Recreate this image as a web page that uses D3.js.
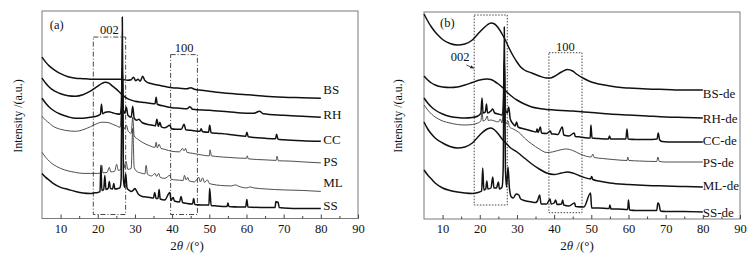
<!DOCTYPE html>
<html>
<head>
<meta charset="utf-8">
<script src="https://cdn.jsdelivr.net/npm/d3@7"></script>
<style>
  body { margin: 0; background: #fff; }
  svg { display: block; }
  svg text { font-family: "Liberation Serif", Tinos, "Times New Roman", Times, "DejaVu Serif", serif; }
</style>
</head>
<body>
<div id="chart"></div>
<script>
// ticks on the 2θ axis
const majorTicks = [10, 20, 30, 40, 50, 60, 70, 80, 90];
const minorTicks = [15, 25, 35, 45, 55, 65, 75, 85];

// ---- panel (a) : raw samples, [2θ, intensity (a.u.)]
const namesA = ["BS", "RH", "CC", "PS", "ML", "SS"];
const labelLevelA = [128.5, 103.5, 78.5, 56.5, 35.5, 12.5];

const bsA = [[5,161],[6,156],[7,152],[8,149],[9,146.5],[10,144.5],[12,141.5],[14,140],[16,139.5],[18,139],[20,139],[22,139],[24,139],[26,139],[27,138.5],[28,138],[29,138.5],[29.6,141],[30.2,137.5],[30.8,139],[31.4,137],[32.1,142],[32.6,138],[33.5,135.5],[35,134],[37,132.5],[40,130.5],[42,130],[44,129.5],[45,130.5],[46,129],[48,128],[50,127],[52,126],[55,125],[58,124],[60,123.5],[62,123],[65,122],[70,121],[75,120.5],[80,120]];
const rhA = [[5,140],[6,135],[7,131],[8,128],[9,126],[10,124.5],[12,122.5],[14,122],[16,123.5],[18,127],[20,132],[21,134.5],[22,136],[23,135],[24,132],[25,129],[26,125.5],[27,122],[28,119.5],[30,117],[32,116],[34,115],[35.4,114.5],[35.7,121],[36,114],[38,112],[40,110.5],[42,110],[44,109.5],[44.8,111.5],[45.5,109],[50,108],[55,106.5],[60,105],[62,105],[63.5,107],[64.5,104.5],[70,103],[75,102],[80,101]];
const ccA = [[5,120],[6,115],[7,111],[8,108],[10,104],[12,101.5],[14,100],[16,100],[18,101],[20,102.5],[20.7,104],[21,114],[21.3,104.5],[22,106],[23,106.5],[24,105.5],[25,104.5],[26,104],[26.3,110],[26.6,150],[26.9,108],[27.3,105],[27.7,111],[28.1,103],[29,101],[29.4,112],[29.8,100],[30.5,98],[31,99],[32,95.5],[34,93.5],[35.5,92.5],[35.9,99],[36.3,92],[36.7,96],[37.1,91.5],[38,90.5],[39.4,93],[39.8,89.5],[41,89],[42.5,89],[43.2,94],[43.7,88.5],[45,88],[47.5,87],[47.8,89.5],[48.2,86.5],[49.8,86],[50.1,93],[50.5,85.5],[52,85],[55,84],[57,83],[59.8,82],[60.1,86],[60.5,81.5],[65,80],[67.8,79.5],[68.1,84],[68.5,79],[70,78.5],[75,77.5],[80,77]];
const psA = [[5,102],[6,98],[7,95],[8,92],[10,89],[12,87.5],[14,87],[16,88.5],[18,91.5],[20,95],[21,96],[22,96],[23,95.5],[24,94],[25,92.5],[26,91],[26.6,120],[27,89],[27.7,93],[28.2,87],[29,85],[29.4,101],[29.8,82.5],[31,78.5],[32,76],[34,72.5],[35.4,71],[35.7,76],[36,70.5],[36.5,74],[37,70],[38,69],[40,67],[42,66.5],[42.8,70],[43.2,67.5],[43.6,70],[44,66],[45.5,65],[47,64],[50,62.5],[50.2,68.5],[50.6,62.5],[55,61],[60,60],[60.2,62.5],[60.5,59.5],[65,58.5],[68,58],[68.2,62],[68.6,57.5],[70,57.5],[75,56.5],[80,55.5]];
const mlA = [[5,66],[6,61],[7,57],[8,54],[10,50],[12,47.5],[14,46],[16,45],[18,45],[20,45],[20.8,45.5],[21.1,53],[21.4,45.5],[22.5,46],[23.1,51],[23.5,46.5],[24.5,47],[25.1,54],[25.5,48],[26.2,49],[26.6,150],[27,50],[27.6,57],[28.1,49],[29,50],[29.4,90],[29.8,51],[30.5,47],[31.5,45.5],[32.7,44.5],[33,53],[33.4,44],[34.5,42.5],[35.4,45],[35.8,42],[36.4,45],[36.8,41],[38,40],[39.4,43],[39.8,39],[41,38.5],[43,38],[43.3,43],[43.8,38.5],[44.2,41],[44.6,37.5],[46,36.5],[47.2,41],[47.6,36.5],[48.2,40.5],[48.7,36],[49.5,38.5],[50,35],[51,34],[53,33],[56,32.5],[57,33.5],[58,32],[60,30.5],[61,31.5],[62,30.5],[65,29.5],[70,28.5],[75,28],[80,27]];
const ssA = [[5,45],[6,41],[7,38],[8,35],[10,31],[12,29],[14,27],[16,25.5],[18,25],[19,25.5],[20,26],[20.6,27],[20.85,53],[21.1,28],[21.6,29],[21.9,43],[22.2,29],[22.8,30],[23.1,37],[23.4,30],[24,29.5],[24.3,35],[24.6,29.5],[25.5,30],[26,31],[26.3,40],[26.6,201],[26.9,40],[27.2,31],[27.5,45],[27.9,30],[28.5,28],[29,27],[29.5,28],[30,30],[30.5,27],[31,24],[32,22],[33,21.5],[34,21],[35,20.5],[35.3,26],[35.7,20],[36.2,20],[36.5,29],[36.8,19.5],[38,18.5],[39.4,26],[39.7,18],[40.3,21],[40.6,17.5],[42,16.5],[42.4,22],[42.8,16],[44,15],[45.5,14.5],[45.8,20],[46.1,14],[48,13.5],[49.9,13.5],[50.1,30],[50.5,13],[52,12.5],[54.8,12],[55,15.5],[55.3,12],[58,11.5],[59.8,11.5],[60.1,19],[60.4,11.5],[64,11],[67.7,11],[67.9,17],[68.2,16],[68.5,16.5],[68.8,11],[70,10.5],[75,10],[80,10]];

// boxes of panel (a): [2θ from, 2θ to, intensity from, intensity to]
const box002A = [18.8, 27.5, 4, 181];
const box100A = [39.6, 46.8, 4, 163.5];

// ---- panel (b) : demineralised samples
const namesB = ["BS-de", "RH-de", "CC-de", "PS-de", "ML-de", "SS-de"];
const labelLevelB = [125.7, 100.7, 79, 56.7, 34, 6.7];

const bsB = [[5,205],[6,198],[7,192],[8,187],[9,183],[10,179.5],[12,175.5],[14,174],[16,175],[18,179],[20,187],[22,194],[23,196],[24,195],[25,191],[26,185],[27,178],[28,170],[29,163],[30,157],[31,152],[32,149],[34,146],[36,143],[38,141],[39,141],[40,142.5],[42,147],[43.5,149.5],[45,148],[46,145],[48,140.5],[50,137],[52,135],[55,133],[58,131.5],[60,131],[65,130],[70,129.5],[75,129],[80,129]];
const rhB = [[5,143],[6,139],[7,136],[8,134],[10,132],[12,131.5],[14,132],[16,134],[18,136.5],[20,139],[22,140],[23,139.5],[24,137.5],[25,135],[26,132],[27,128],[28,124.5],[29,121.5],[30,119],[32,115],[34,112],[36,110.5],[38,109.5],[40,109],[42,108.5],[45,108],[48,107],[50,106.5],[55,105],[60,104],[65,103],[70,102],[75,101.5],[80,101]];
const ccB = [[5,121],[6,116],[7,112],[8,109],[10,105],[12,102.5],[14,101.5],[16,101],[18,101.5],[19.5,103],[20.3,106],[20.6,121],[20.9,106],[21.5,107],[21.8,115],[22.1,106],[23,108],[23.5,110],[24,106],[25,105],[26,104],[26.3,110],[26.6,160],[26.9,110],[27.4,106],[27.8,112],[28.2,100],[29,95],[29.5,93],[29.9,97],[30.3,92],[32,90],[34,88],[35.2,87],[35.4,90],[35.7,86.5],[36.3,92],[36.6,86],[38,85.5],[39,88],[39.3,85],[40,85],[41,84.5],[42.2,92],[42.6,84],[44,83],[45.4,86],[45.7,82.5],[47,82],[49.7,81],[49.9,94],[50.2,81],[52,80.5],[54.6,80],[54.9,83],[55.2,80],[57,80],[59.3,80],[59.6,90],[59.9,80],[62,79.5],[65,79.5],[67.7,80],[68,86],[68.4,79],[69,77.5],[72,77],[75,77],[80,77]];
const psB = [[5,114],[6,109],[7,105],[8,102],[10,98],[12,96],[14,94.5],[16,94],[18,94.5],[19.5,96],[20.3,98],[20.6,108],[20.9,98],[21.5,99],[22,103],[22.3,98.5],[23,99],[24,98],[25,97],[25.5,100],[26,96],[26.6,130],[27,95],[27.6,98],[28,92],[29,90],[30,88],[31,85],[32,81],[34,75],[36,70],[38,66.5],[39.5,67],[41,68.5],[43.3,70],[45,68.5],[47,65],[48,63.5],[50,62],[50.4,65],[50.8,61.5],[53,60.5],[55.8,59.5],[59.6,58.5],[59.8,62],[60.1,58.5],[63,58],[67.6,57.5],[67.9,62],[68.3,57.5],[70,57],[75,57],[80,57]];
const mlB = [[5,97],[6,90],[7,85],[8,81],[10,76],[12,72.5],[14,71],[16,72],[18,76],[20,84],[22,90],[23,91],[24,89],[25,85],[26,80],[27,76],[28,72],[30,67],[32,61],[34,55],[36,50],[38,46],[40,44.5],[42,46],[43.5,47],[45,46],[47,43],[49.8,40],[50.1,42.5],[50.4,39.5],[52,38],[55,36],[60,34.5],[65,33.5],[70,33],[75,32.5],[80,32]];
const ssB = [[5,49],[6,44],[7,40],[8,36],[10,31],[12,28.5],[14,27],[16,26],[18,25.5],[19.5,26.5],[20.5,28],[20.8,51],[21.1,29],[21.6,30],[21.9,38],[22.2,30],[23,31],[23.5,42],[23.8,31],[24.5,31],[25,37],[25.3,30],[26,32],[26.3,50],[26.6,192],[26.9,50],[27.2,32],[27.6,52],[28,30],[28.5,22],[29,21],[29.8,25],[30.5,24],[31,20],[32,18.5],[34,17],[35,16.5],[35.5,18],[36.1,24],[36.5,15],[38,15],[38.9,20],[39.2,15],[40,16],[40.4,19],[40.8,14.5],[42,15],[42.3,19],[42.6,14],[44,13],[45.5,16],[45.8,12.5],[48,12],[49.8,26],[50.1,11],[52,11],[54.8,10.5],[55,14],[55.3,10],[57,10],[59.8,9.5],[60,19],[60.3,9],[62,8.5],[64,8.5],[67.6,8.5],[67.9,16],[68.2,15],[68.6,8],[70,7.5],[75,7.5],[80,7]];

const box002B = [18.5, 27.4, 14, 204];
const box100B = [38.6, 47.5, 6.3, 166.3];
// "002" pointer in (b): [2θ, intensity] start and end
const arrow002B = [[16.4, 154], [18.4, 150.8]];

const width = 755, height = 258;
const serif = '"Liberation Serif", Tinos, "Times New Roman", Times, "DejaVu Serif", serif';

const svg = d3.select("#chart")
  .append("svg")
  .attr("width", width)
  .attr("height", height)
  .attr("font-family", serif);

svg.append("defs").append("marker")
  .attr("id", "head")
  .attr("viewBox", "0 0 10 10")
  .attr("refX", 9).attr("refY", 5)
  .attr("markerWidth", 5).attr("markerHeight", 5)
  .attr("orient", "auto")
  .append("path")
  .attr("d", "M0,1 L10,5 L0,9 Z")
  .attr("fill", "#222");

function drawPanel(p) {
  const xScale = d3.scaleLinear().domain([5, 90]).range([p.left, p.right]);
  const yScale = d3.scaleLinear().domain([0, 207]).range([p.bottom, p.top]);
  const g = svg.append("g");

  // frame
  g.append("rect")
    .attr("x", xScale(5)).attr("y", yScale(207))
    .attr("width", xScale(90) - xScale(5))
    .attr("height", yScale(0) - yScale(207))
    .attr("fill", "none")
    .attr("stroke", "#7a7a7a")
    .attr("stroke-width", 1);

  // dashed boxes around 002 and 100 bands
  p.boxes.forEach(b => {
    g.append("rect")
      .attr("x", xScale(b[0])).attr("y", yScale(b[3]))
      .attr("width", xScale(b[1]) - xScale(b[0]))
      .attr("height", yScale(b[2]) - yScale(b[3]))
      .attr("fill", "none")
      .attr("stroke", "#333")
      .attr("stroke-width", 0.9)
      .attr("stroke-dasharray", p.dash);
  });

  const line = d3.line()
    .x(d => xScale(d[0]))
    .y(d => yScale(d[1]))
    .curve(d3.curveMonotoneX);

  p.series.forEach((s, i) => {
    g.append("path")
      .datum(s)
      .attr("d", line)
      .attr("fill", "none")
      .attr("stroke", p.thin[i] ? "#3a3a3a" : "#111")
      .attr("stroke-width", p.thin[i] ? 0.9 : 1.5)
      .attr("stroke-linejoin", "round");

    g.append("text")
      .attr("x", xScale(80) + p.labelGap)
      .attr("y", yScale(p.levels[i]))
      .attr("dominant-baseline", "central")
      .attr("font-size", 13)
      .attr("fill", "#111")
      .text(p.names[i]);
  });

  // bottom axis, ticks pointing inward
  const axisG = g.append("g").attr("transform", `translate(0,${p.bottom})`);
  axisG.call(d3.axisBottom(xScale).tickValues(majorTicks)
    .tickSizeInner(-4).tickSizeOuter(0).tickPadding(5.5));
  axisG.append("g").call(d3.axisBottom(xScale).tickValues(minorTicks)
    .tickSizeInner(-2.5).tickSizeOuter(0).tickFormat(""));
  axisG.selectAll(".domain").remove();
  axisG.attr("font-family", serif);
  axisG.selectAll("g").attr("font-family", serif);
  axisG.selectAll("line").attr("stroke", "#444");
  axisG.selectAll("text")
    .attr("font-size", 12.5)
    .attr("font-family", serif)
    .attr("fill", "#111");

  // axis titles
  const xt = g.append("text")
    .attr("x", p.xTitleX).attr("y", 250)
    .attr("text-anchor", "middle")
    .attr("font-size", 13)
    .attr("fill", "#111");
  xt.append("tspan").text("2");
  xt.append("tspan").attr("font-style", "italic").text("θ");
  xt.append("tspan").text(" /(°)");

  g.append("text")
    .attr("transform", `translate(${p.yTitleX},116) rotate(-90)`)
    .attr("text-anchor", "middle")
    .attr("dominant-baseline", "central")
    .attr("font-size", 12)
    .attr("fill", "#111")
    .text("Intensity /(a.u.)");

  // panel tag
  g.append("text")
    .attr("x", xScale(p.tag[1])).attr("y", yScale(p.tag[2]))
    .attr("font-size", 12.5)
    .attr("fill", "#111")
    .text(p.tag[0]);

  // band labels
  p.bandLabels.forEach(b => {
    g.append("text")
      .attr("x", xScale(b[1])).attr("y", yScale(b[2]))
      .attr("text-anchor", "middle")
      .attr("font-size", 12.5)
      .attr("fill", "#111")
      .text(b[0]);
  });

  if (p.arrow) {
    g.append("line")
      .attr("x1", xScale(p.arrow[0][0])).attr("y1", yScale(p.arrow[0][1]))
      .attr("x2", xScale(p.arrow[1][0])).attr("y2", yScale(p.arrow[1][1]))
      .attr("stroke", "#222")
      .attr("stroke-width", 0.8)
      .attr("marker-end", "url(#head)");
  }
}

drawPanel({
  left: 42, right: 358, top: 11, bottom: 218.5,
  series: [bsA, rhA, ccA, psA, mlA, ssA],
  thin: [false, false, false, true, true, false],
  names: namesA, levels: labelLevelA, labelGap: 2.5,
  boxes: [box002A, box100A], dash: "5,2,1,2",
  xTitleX: 187, yTitleX: 17.5,
  tag: ["(a)", 7.1, 189.5],
  bandLabels: [["002", 23.15, 184.5], ["100", 43.2, 166.5]],
  arrow: null
});

drawPanel({
  left: 424, right: 740, top: 12, bottom: 219,
  series: [bsB, rhB, ccB, psB, mlB, ssB],
  thin: [false, false, false, true, false, false],
  names: namesB, levels: labelLevelB, labelGap: 0,
  boxes: [box002B, box100B], dash: "1.5,1.5",
  xTitleX: 577, yTitleX: 397.5,
  tag: ["(b)", 9.3, 192],
  bandLabels: [["002", 14.7, 158], ["100", 43, 168]],
  arrow: arrow002B
});
</script>
</body>
</html>
